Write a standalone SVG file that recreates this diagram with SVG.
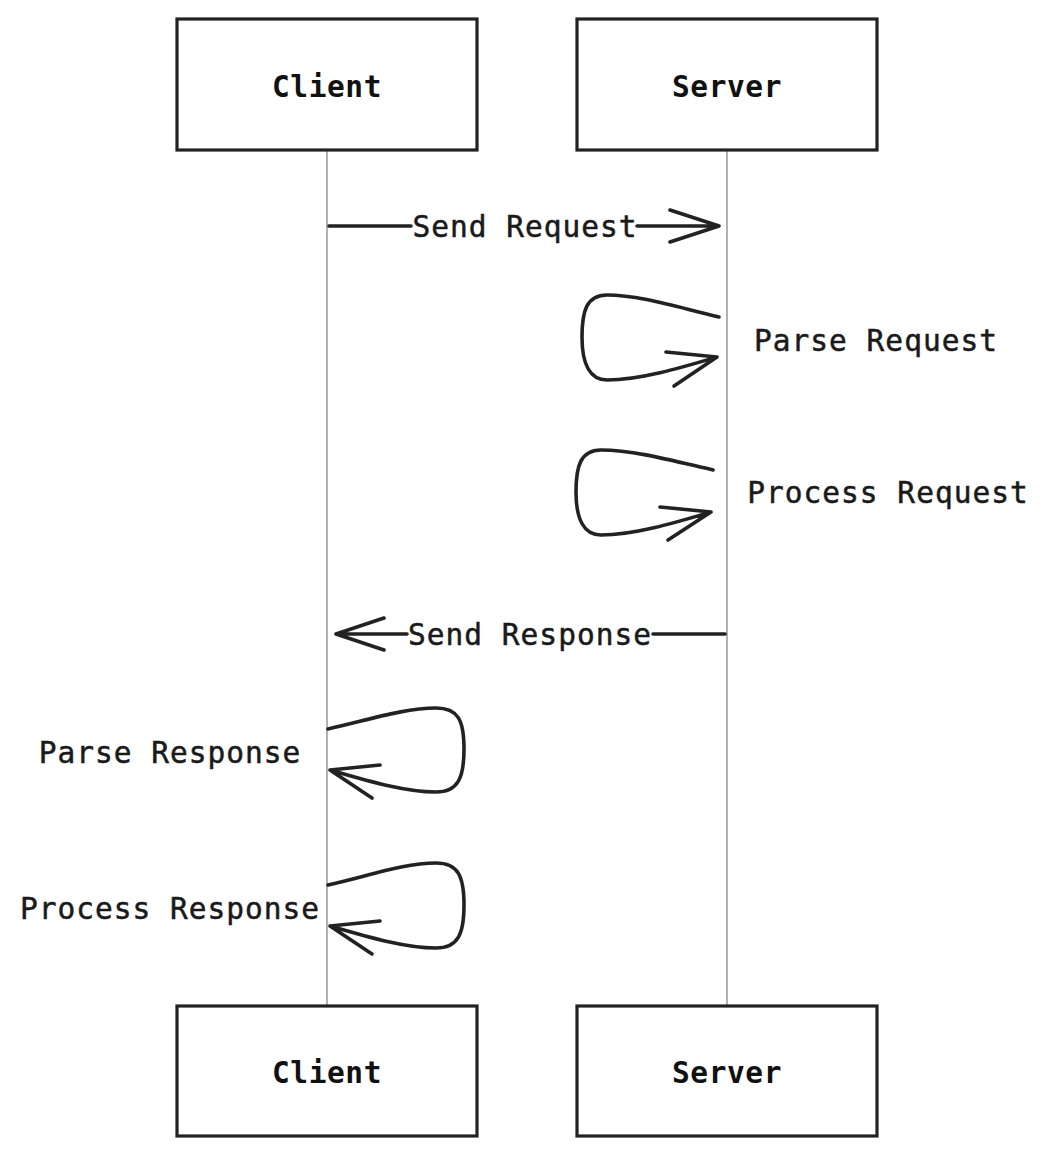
<svg xmlns="http://www.w3.org/2000/svg" width="1048" height="1156" viewBox="0 0 1048 1156">
<style>
.box{fill:#fff;stroke:#222;stroke-width:3.2}
.life{stroke:#999;stroke-width:1.5;fill:none}
.t{font-family:"DejaVu Sans Mono",monospace;font-size:29.5px;letter-spacing:1px;fill:#1a1a1a;stroke:#1a1a1a;stroke-width:0.5;text-anchor:middle}
.b{font-weight:bold;stroke-width:0;fill:#111;letter-spacing:0.6px}
.c{stroke:#222;stroke-width:3.6;fill:none;stroke-linecap:round;stroke-linejoin:round}
</style>
<rect width="1048" height="1156" fill="#fff"/>
<g id="lifelines">
<line class="life" x1="327" y1="150" x2="327" y2="1006"/>
<line class="life" x1="727" y1="150" x2="727" y2="1006"/>
</g>
<g id="client-top"><rect class="box" x="177" y="19" width="300" height="131"/><text class="t b" x="327" y="97">Client</text></g>
<g id="server-top"><rect class="box" x="577" y="19" width="300" height="131"/><text class="t b" x="727" y="97">Server</text></g>
<g id="client-bottom"><rect class="box" x="177" y="1006" width="300" height="130"/><text class="t b" x="327" y="1083">Client</text></g>
<g id="server-bottom"><rect class="box" x="577" y="1006" width="300" height="130"/><text class="t b" x="727" y="1083">Server</text></g>
<g id="connectors">
<path class="c" d="M329,226 L411,226 M637,226 L719,226 M670,210 L719,226 L670,242"/>
<text class="t" x="525" y="237">Send Request</text>
<path class="c" d="M719,317 C680,308 640,295 607,295 C586,295 582,312 582,337 C582,364 590,380 607,380 C640,380 680,368 717,357 M666,352 L717,357 L674,386"/>
<text class="t" x="876" y="351">Parse Request</text>
<path class="c" d="M713,470 C674,461 634,450 601,450 C580,450 576,467 576,492 C576,519 584,535 601,535 C634,535 674,523 711,512 M660,507 L711,512 L668,540"/>
<text class="t" x="888" y="503">Process Request</text>
<path class="c" d="M725,634 L653,634 M407,634 L336,634 M384,618 L336,634 L384,650"/>
<text class="t" x="530" y="645">Send Response</text>
<path class="c" d="M328,729 C368,720 405,708 436,708 C458,708 464,720 464,749 C464,778 458,792 436,792 C405,792 368,781 330,770 M380,765 L330,770 L372,798"/>
<text class="t" x="170" y="763">Parse Response</text>
<path class="c" d="M328,885 C368,876 405,863 436,863 C458,863 464,876 464,905 C464,934 458,948 436,948 C405,948 368,937 330,926 M380,921 L330,926 L372,954"/>
<text class="t" x="170" y="919">Process Response</text>
</g>
</svg>
